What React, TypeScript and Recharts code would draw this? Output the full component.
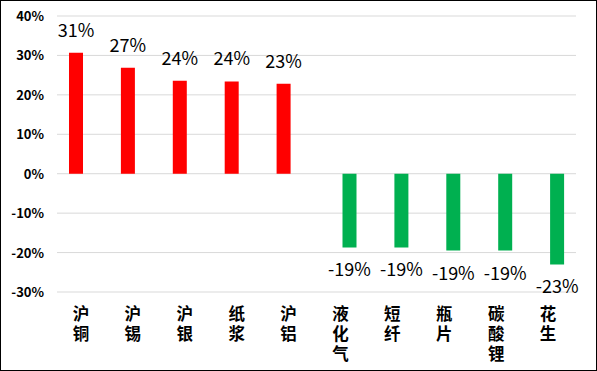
import { BarChart, Bar, XAxis, YAxis, CartesianGrid, LabelList } from 'recharts'

document.body.style.margin = '0'

const categories = ['沪铜', '沪锡', '沪银', '纸浆', '沪铝', '液化气', '短纤', '瓶片', '碳酸锂', '花生']
const gains = [0.307, 0.269, 0.236, 0.234, 0.228, null, null, null, null, null]
const losses = [null, null, null, null, null, -0.187, -0.187, -0.195, -0.195, -0.23]
const labels = ['31%', '27%', '24%', '24%', '23%', '-19%', '-19%', '-19%', '-19%', '-23%']
const yTicks = [-0.3, -0.2, -0.1, 0, 0.1, 0.2, 0.3, 0.4]

const FONT = '"Microsoft YaHei", "Noto Sans CJK SC", sans-serif'

const data = categories.map((name, i) => ({
  name,
  up: gains[i],
  down: losses[i],
  upLabel: gains[i] != null ? labels[i] : null,
  downLabel: losses[i] != null ? labels[i] : null,
}))

// category names are written one character per line
function XTick(props: any) {
  const { x, payload } = props
  const chars: string[] = String(payload.value).split('')
  return (
    <text
      x={x - 2}
      y={319}
      textAnchor="middle"
      fontSize={16.5}
      fontWeight="bold"
      fontFamily={FONT}
      fill="#000"
    >
      {chars.map((c, i) => (
        <tspan key={i} x={x - 2} dy={i === 0 ? 0 : 20}>
          {c}
        </tspan>
      ))}
    </text>
  )
}

function YTick(props: any) {
  const { y, payload } = props
  return (
    <text
      x={43}
      y={y + 5}
      textAnchor="end"
      fontSize={13}
      fontWeight="bold"
      fontFamily={FONT}
      fill="#000"
    >
      {Math.round(payload.value * 100) + '%'}
    </text>
  )
}

function UpLabel(props: any) {
  const { x, y, width, height, value } = props
  if (value == null) return null
  const top = Math.min(y, y + height)
  return (
    <text x={x + width / 2} y={top - 16} textAnchor="middle" fontSize={18} fontFamily={FONT} fill="#000">
      {value}
    </text>
  )
}

function DownLabel(props: any) {
  const { x, y, width, height, value } = props
  if (value == null) return null
  const bottom = Math.max(y, y + height)
  return (
    <text x={x + width / 2} y={bottom + 29} textAnchor="middle" fontSize={18} fontFamily={FONT} fill="#000">
      {value}
    </text>
  )
}

export default function App() {
  return (
    <div style={{ width: 597, height: 371, border: '1px solid #000', boxSizing: 'border-box', background: '#fff' }}>
      <BarChart
        width={595}
        height={369}
        data={data}
        margin={{ top: 15, right: 20, bottom: 0, left: 0 }}
        barGap={0}
      >
        <CartesianGrid horizontal vertical={false} stroke="#d9d9d9" />
        <XAxis
          dataKey="name"
          axisLine={false}
          tickLine={false}
          interval={0}
          tick={<XTick />}
          height={78}
        />
        <YAxis
          domain={[-0.3, 0.4]}
          ticks={yTicks}
          axisLine={false}
          tickLine={false}
          width={56}
          tick={<YTick />}
        />
        <Bar dataKey="up" fill="#ff0000" barSize={14} isAnimationActive={false}>
          <LabelList dataKey="upLabel" content={<UpLabel />} />
        </Bar>
        <Bar dataKey="down" fill="#00b050" barSize={14} isAnimationActive={false}>
          <LabelList dataKey="downLabel" content={<DownLabel />} />
        </Bar>
      </BarChart>
    </div>
  )
}
